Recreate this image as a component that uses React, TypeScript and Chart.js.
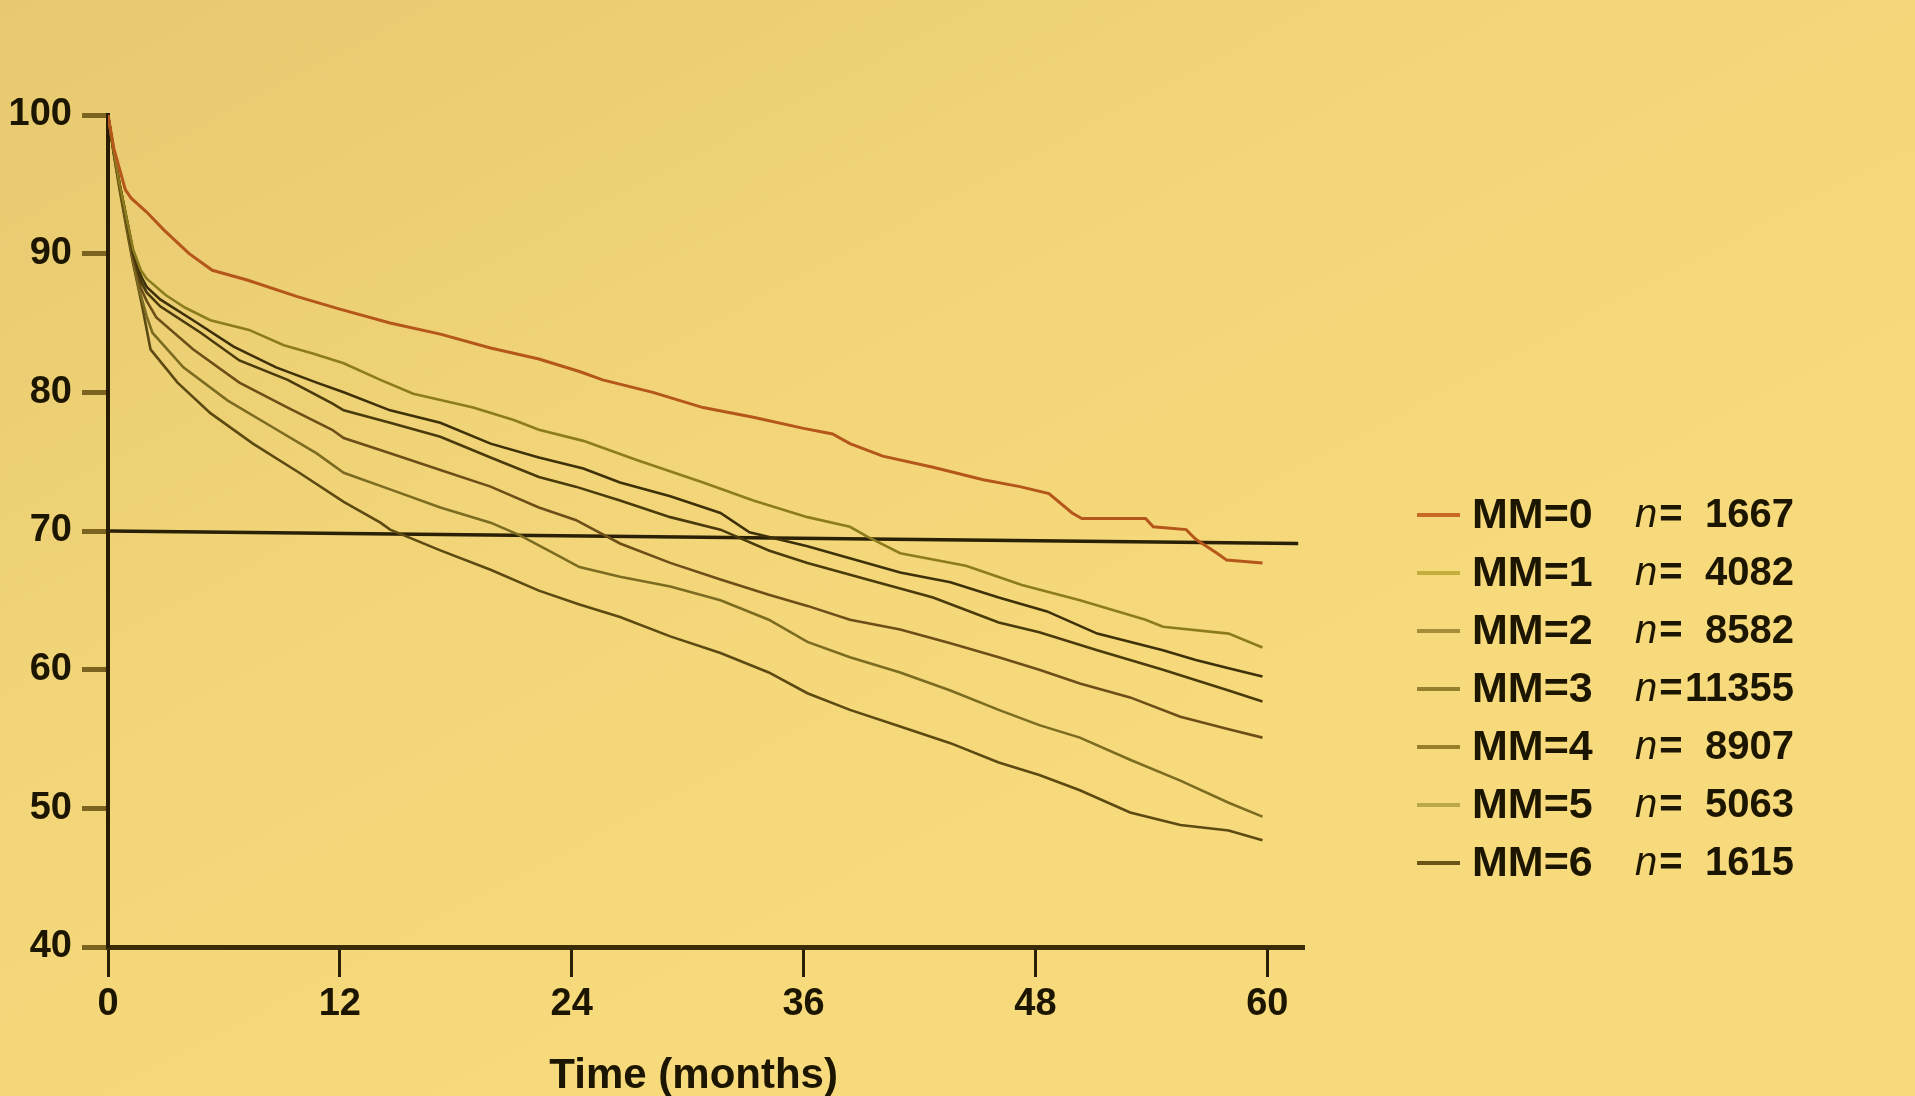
import React, { useEffect, useRef } from 'react';
import { Chart, registerables } from 'chart.js';

Chart.register(...registerables);

// ---------- data ----------
const SERIES_LABELS = ['MM=0', 'MM=1', 'MM=2', 'MM=3', 'MM=4', 'MM=5', 'MM=6'];
const SERIES_N = ['1667', '4082', '8582', '11355', '8907', '5063', '1615'];
const X_TICKS = [0, 12, 24, 36, 48, 60];
const Y_TICKS = [40, 50, 60, 70, 80, 90, 100];
const X_TITLE = 'Time (months)';

// [month, % surviving]
const MM0 = [[0,100],[0.3,97.6],[0.9,94.6],[1.2,94.0],[2.0,93.0],[2.9,91.7],[4.2,90.0],[5.4,88.8],[7.2,88.1],[9.8,86.9],[12.0,86.0],[14.6,85.0],[17.2,84.2],[19.8,83.2],[22.3,82.4],[24.4,81.5],[25.6,80.9],[28.2,80.0],[30.8,78.9],[33.4,78.2],[36.0,77.4],[37.5,77.0],[38.4,76.3],[40.1,75.4],[42.7,74.6],[45.3,73.7],[47.2,73.2],[48.7,72.7],[49.9,71.3],[50.4,70.9],[53.7,70.9],[54.1,70.3],[55.8,70.1],[56.3,69.4],[57.4,68.4],[57.9,67.9],[59.75,67.7]];
const MM1 = [[0,100],[0.3,97.4],[0.6,95.0],[1.0,92.3],[1.3,90.3],[1.7,88.8],[2.0,88.2],[3.0,87.0],[4.0,86.1],[5.3,85.2],[7.3,84.5],[9.1,83.4],[10.6,82.8],[12.2,82.1],[14.1,80.9],[15.8,79.9],[18.9,78.9],[21.0,78.0],[22.3,77.3],[24.6,76.5],[27.4,75.1],[30.8,73.5],[33.4,72.2],[36.2,71.0],[38.4,70.3],[39.3,69.6],[41.0,68.4],[44.4,67.5],[47.3,66.1],[50.3,65.0],[53.7,63.6],[54.6,63.1],[58.0,62.6],[59.75,61.6]];
const MM2 = [[0,100],[0.3,97.4],[0.6,95.0],[1.0,92.3],[1.3,90.2],[1.7,88.4],[2.0,87.6],[2.7,86.7],[4.4,85.2],[6.5,83.3],[8.7,81.8],[10.8,80.7],[12.2,80.0],[14.6,78.7],[17.2,77.8],[19.8,76.3],[22.3,75.3],[24.6,74.5],[26.5,73.5],[29.1,72.5],[31.7,71.3],[33.2,69.9],[36.2,68.9],[41.0,67.0],[43.6,66.3],[46.1,65.2],[48.6,64.2],[51.2,62.6],[54.6,61.4],[56.3,60.7],[58.0,60.1],[59.75,59.5]];
const MM3 = [[0,100],[0.3,97.4],[0.6,95.0],[1.0,92.2],[1.3,90.0],[1.7,88.0],[2.0,87.2],[2.7,86.2],[4.8,84.3],[6.8,82.3],[9.3,80.9],[11.6,79.2],[12.2,78.7],[14.6,77.8],[17.2,76.8],[19.8,75.3],[22.3,73.9],[24.2,73.2],[26.5,72.2],[29.1,71.0],[31.7,70.1],[34.2,68.6],[36.2,67.7],[39.3,66.5],[42.7,65.2],[46.1,63.4],[48.2,62.7],[51.2,61.4],[54.6,60.0],[58.0,58.5],[59.75,57.7]];
const MM4 = [[0,100],[0.3,97.3],[0.6,94.9],[1.0,92.0],[1.3,89.8],[1.7,87.5],[2.0,86.6],[2.5,85.4],[4.4,83.1],[6.8,80.7],[9.3,78.9],[11.6,77.3],[12.2,76.7],[14.6,75.6],[17.2,74.4],[19.8,73.2],[22.3,71.7],[24.2,70.8],[26.5,69.1],[29.1,67.7],[31.7,66.5],[34.2,65.4],[36.2,64.6],[38.4,63.6],[41.0,62.9],[43.6,61.9],[46.1,60.9],[48.2,60.0],[50.3,59.0],[52.9,58.0],[55.5,56.6],[58.0,55.7],[59.75,55.1]];
const MM5 = [[0,100],[0.3,97.2],[0.6,94.8],[1.0,91.8],[1.3,89.5],[1.6,87.5],[2.0,85.5],[2.3,84.3],[3.9,81.8],[6.2,79.4],[8.5,77.5],[10.8,75.6],[12.2,74.2],[14.6,73.0],[17.2,71.7],[19.8,70.6],[21.3,69.7],[23.2,68.3],[24.4,67.4],[26.5,66.7],[29.1,66.0],[31.7,65.0],[34.2,63.6],[36.2,62.0],[38.4,60.9],[41.0,59.8],[43.6,58.5],[46.1,57.1],[48.2,56.0],[50.3,55.1],[52.9,53.5],[55.5,52.0],[58.0,50.4],[59.75,49.4]];
const MM6 = [[0,100],[0.3,97.2],[0.6,94.6],[1.0,91.5],[1.3,89.3],[1.5,88.0],[1.8,86.0],[2.2,83.1],[3.6,80.7],[5.3,78.5],[7.5,76.3],[9.9,74.2],[12.2,72.1],[14.1,70.6],[14.6,70.1],[17.2,68.6],[19.8,67.2],[22.3,65.7],[24.4,64.7],[26.5,63.8],[29.1,62.4],[31.7,61.2],[34.2,59.8],[36.2,58.3],[38.4,57.1],[41.0,55.9],[43.6,54.7],[46.1,53.3],[48.2,52.4],[50.3,51.3],[52.9,49.7],[55.5,48.8],[58.0,48.4],[59.75,47.7]];
const REF_LINE = [[0,70],[61.6,69.1]];

const SERIES = [MM0, MM1, MM2, MM3, MM4, MM5, MM6];

// ---------- styles ----------
const FONT = '"Liberation Sans", Arial, Helvetica, sans-serif';
const TEXT_COLOR = '#1c1500';
const LINE_COLORS = ['#B5561A', '#8C7C1E', '#3E3008', '#4A3A0C', '#6E4E18', '#7C6C22', '#5C4A12'];
const LEGEND_COLORS = ['#C86A24', '#C4AE3C', '#A48E3A', '#94802E', '#9A7E2C', '#BCA848', '#6A5418'];

const backgroundPlugin = {
  id: 'paperBg',
  beforeDraw(chart: any) {
    const { ctx, width, height } = chart;
    ctx.save();
    const g = ctx.createLinearGradient(0, 0, width * 0.3, height);
    g.addColorStop(0, '#E7C96F');
    g.addColorStop(0.55, '#F1D578');
    g.addColorStop(1, '#F6DA7B');
    ctx.fillStyle = g;
    ctx.fillRect(0, 0, width, height);
    ctx.restore();
  },
};

const axisTitlePlugin = {
  id: 'xTitle',
  afterDraw(chart: any) {
    const ctx = chart.ctx;
    const xs = chart.scales.x;
    ctx.save();
    ctx.fillStyle = TEXT_COLOR;
    ctx.font = `bold 42px ${FONT}`;
    ctx.textAlign = 'center';
    ctx.textBaseline = 'middle';
    ctx.fillText(X_TITLE, xs.getPixelForValue(30) + 6, xs.bottom - 20);
    ctx.restore();
  },
};

const legendPlugin = {
  id: 'mmLegend',
  afterDraw(chart: any) {
    const ctx = chart.ctx;
    const area = chart.chartArea;
    const lineX0 = area.right + 113;
    const lineX1 = lineX0 + 43;
    const labelX = lineX0 + 55;
    const nX = lineX0 + 218;
    const numRight = lineX0 + 377;
    const rowY0 = 515;
    const rowDy = 58;
    ctx.save();
    ctx.textBaseline = 'middle';
    SERIES_LABELS.forEach((lab, i) => {
      const y = rowY0 + i * rowDy;
      ctx.strokeStyle = LEGEND_COLORS[i];
      ctx.lineWidth = 4;
      ctx.beginPath();
      ctx.moveTo(lineX0, y);
      ctx.lineTo(lineX1, y);
      ctx.stroke();
      ctx.fillStyle = TEXT_COLOR;
      ctx.textAlign = 'left';
      ctx.font = `bold 43px ${FONT}`;
      ctx.fillText(lab, labelX, y + 1);
      ctx.font = `italic 40px ${FONT}`;
      ctx.fillText('n', nX, y + 1);
      const nw = ctx.measureText('n').width;
      ctx.font = `bold 40px ${FONT}`;
      ctx.fillText('=', nX + nw + 2, y + 1);
      ctx.textAlign = 'right';
      ctx.fillText(SERIES_N[i], numRight, y + 1);
    });
    ctx.restore();
  },
};

export default function App() {
  const canvasRef = useRef<HTMLCanvasElement | null>(null);

  useEffect(() => {
    document.body.style.margin = '0';
    const canvas = canvasRef.current;
    if (!canvas) return;

    const datasets: any[] = SERIES.map((pts, i) => ({
      label: SERIES_LABELS[i],
      data: pts.map(([x, y]) => ({ x, y })),
      borderColor: LINE_COLORS[i],
      borderWidth: i === 0 ? 3 : 2.6,
      pointRadius: 0,
      tension: 0,
      fill: false,
    }));
    datasets.push({
      label: 'reference 70%',
      data: REF_LINE.map(([x, y]) => ({ x, y })),
      borderColor: '#2A2006',
      borderWidth: 3.5,
      pointRadius: 0,
      tension: 0,
      fill: false,
    });

    const chart = new Chart(canvas, {
      type: 'line',
      data: { datasets },
      options: {
        animation: false,
        responsive: false,
        maintainAspectRatio: false,
        layout: { padding: { left: 0, top: 115, right: 611, bottom: 0 } },
        plugins: {
          legend: { display: false },
          tooltip: { enabled: false },
        },
        scales: {
          x: {
            type: 'linear',
            min: 0,
            max: 61.9,
            afterBuildTicks: (s: any) => {
              s.ticks = X_TICKS.map((v) => ({ value: v }));
            },
            afterFit: (s: any) => {
              s.height = 149;
            },
            grid: {
              drawOnChartArea: false,
              drawTicks: true,
              tickLength: 30,
              tickWidth: 3,
              tickColor: '#2A2006',
            },
            border: { display: true, color: '#3A2C06', width: 5 },
            ticks: {
              padding: 5,
              color: TEXT_COLOR,
              maxRotation: 0,
              autoSkip: false,
              font: { family: FONT, size: 38, weight: 'bold' },
            },
            title: { display: false },
          },
          y: {
            type: 'linear',
            min: 40,
            max: 100,
            afterBuildTicks: (s: any) => {
              s.ticks = Y_TICKS.map((v) => ({ value: v }));
            },
            afterFit: (s: any) => {
              s.width = 108;
            },
            grid: {
              drawOnChartArea: false,
              drawTicks: true,
              tickLength: 26,
              tickWidth: 5,
              tickColor: '#7A6420',
            },
            border: { display: true, color: '#2A1C04', width: 4 },
            ticks: {
              padding: 10,
              color: TEXT_COLOR,
              font: { family: FONT, size: 38, weight: 'bold' },
            },
          },
        },
      },
      plugins: [backgroundPlugin, legendPlugin, axisTitlePlugin],
    });

    return () => {
      chart.destroy();
    };
  }, []);

  return (
    <div style={{ position: 'absolute', left: 0, top: 0, width: 1915, height: 1096, background: '#F0D477' }}>
      <canvas ref={canvasRef} width={1915} height={1096} style={{ display: 'block', width: 1915, height: 1096 }} />
    </div>
  );
}
